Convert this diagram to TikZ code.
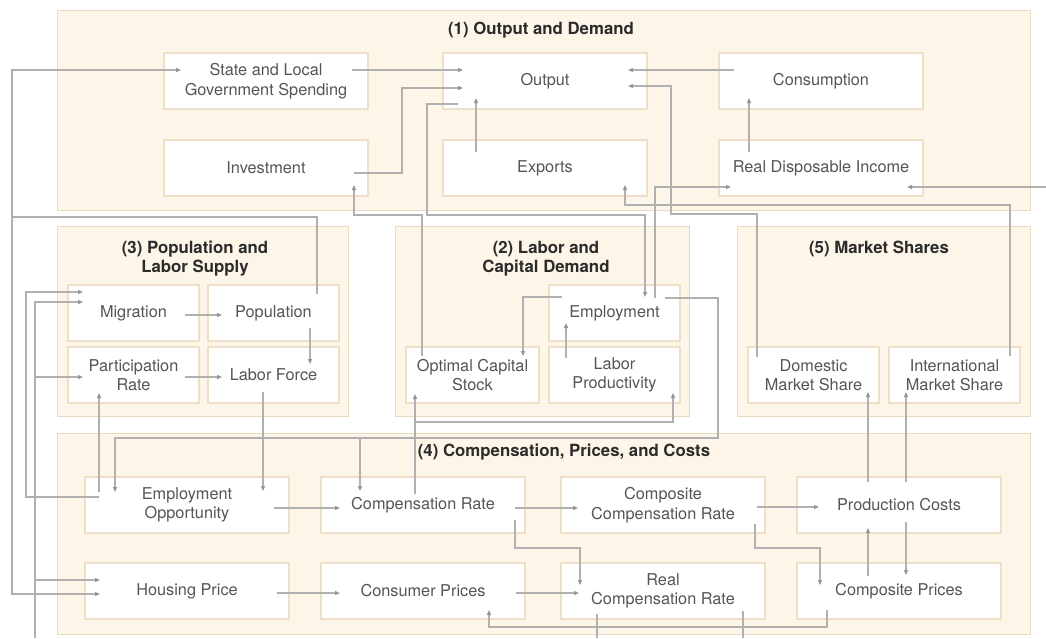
\documentclass[tikz,border=0pt]{standalone}
\usepackage{fontspec}
\setmainfont{TeX Gyre Heros}
\usetikzlibrary{arrows.meta,calc}
\definecolor{grpfill}{HTML}{FDF6E8}
\definecolor{grpline}{HTML}{E8D9BF}
\definecolor{boxline}{HTML}{EDE0C7}
\definecolor{linec}{HTML}{B0B0B0}
\definecolor{tipc}{HTML}{959595}
\definecolor{txt}{HTML}{555555}
\definecolor{ttl}{HTML}{2B2B2B}
\begin{document}
\begin{tikzpicture}[x=1pt,y=-1pt,
 grp/.style={draw=grpline, fill=grpfill, line width=1.4pt, anchor=north west, inner sep=0pt},
 bx/.style={draw=boxline, fill=white, line width=1.4pt, anchor=center, inner sep=0pt, align=center, text=txt, font=\fontsize{16.3}{19.5}\selectfont},
 wide/.style={bx, minimum width=204pt, minimum height=56pt},
 small/.style={bx, minimum width=131pt, minimum height=56pt},
 ttlst/.style={align=center, text=ttl, font=\bfseries\fontsize{16.8}{19.5}\selectfont, inner sep=0pt},
 conn/.style={draw=linec, line width=1.1pt, -{Triangle[length=5pt,width=4pt,color=tipc]}},
 plain/.style={draw=linec, line width=1.1pt},
]
\fill[white] (0,0) rectangle (1046,638);
\useasboundingbox (0,0) rectangle (1046,638);

% groups
\node[grp, minimum width=973pt, minimum height=200pt] (g1) at (57,10) {};
\node[grp, minimum width=291pt, minimum height=190pt] (g3) at (57,226) {};
\node[grp, minimum width=294pt, minimum height=190pt] (g2) at (395,226) {};
\node[grp, minimum width=293pt, minimum height=190pt] (g5) at (737,226) {};
\node[grp, minimum width=973pt, minimum height=201pt] (g4) at (57,433) {};

% titles
\node[ttlst] (t1) at (541,30) {(1) Output and Demand};
\node[ttlst] (t3) at (195,258.5) {(3) Population and\\Labor Supply};
\node[ttlst] (t2) at (546,258.5) {(2) Labor and\\Capital Demand};
\node[ttlst] (t5) at (879,249) {(5) Market Shares};
\node[ttlst] (t4) at (564,452) {(4) Compensation, Prices, and Costs};

% group 1 boxes
\node[wide] (sls) at (266,81) {State and Local\\Government Spending};
\node[wide] (out) at (545,81) {Output};
\node[wide] (cons) at (821,81) {Consumption};
\node[wide] (inv) at (266,168) {Investment};
\node[wide] (exp) at (545,168) {Exports};
\node[wide] (rdi) at (821,168) {Real Disposable Income};

% group 3 boxes
\node[small] (mig) at (133.5,313) {Migration};
\node[small] (pop) at (273.5,313) {Population};
\node[small] (pr) at (133.5,375) {Participation\\Rate};
\node[small] (lf) at (273.5,375) {Labor Force};

% group 2 boxes
\node[small, minimum width=133pt] (ocs) at (472.5,375) {Optimal Capital\\Stock};
\node[small] (emp) at (614.5,313) {Employment};
\node[small] (lp) at (614.5,375) {Labor\\Productivity};

% group 5 boxes
\node[small] (dom) at (813.5,375) {Domestic\\Market Share};
\node[small] (int) at (954.5,375) {International\\Market Share};

% group 4 boxes
\node[wide] (eo) at (187,505) {Employment\\Opportunity};
\node[wide] (cr) at (423,505) {Compensation Rate};
\node[wide] (ccr) at (663,505) {Composite\\Compensation Rate};
\node[wide] (pc) at (899,505) {Production Costs};
\node[wide] (hp) at (187,591) {Housing Price};
\node[wide] (cp) at (423,591) {Consumer Prices};
\node[wide] (rcr) at (663,591) {Real\\Compensation Rate};
\node[wide] (compp) at (899,591) {Composite Prices};

% free ends at the picture border
\coordinate (rin) at (1046,187);
\coordinate (bin) at (35,638);
\coordinate (b1) at (597,638);
\coordinate (b2) at (743,638);
\coordinate (h422) at (0,422);

% group 1 connectors
\draw[conn] ([shift={(86,-11)}]sls.center) -- ([shift={(-82,-11)}]out.center);
\draw[conn] ([shift={(88,5)}]inv.center) -| (402,88) -- ([shift={(-82,7)}]out.center);
\draw[conn] ([shift={(-87,23)}]out.center) -| (427,215) -| ([shift={(30.5,-16)}]emp.center);
\draw[conn] ([shift={(-87,-11)}]cons.center) -- ([shift={(83,-11)}]out.center);
\draw[conn] ([shift={(-56.5,-18)}]dom.center) |- (671,214) |- ([shift={(83,5)}]out.center);
\draw[conn] ([shift={(-72,-16)}]rdi.center) -- ([shift={(-72,17)}]cons.center);
\draw[conn] ([shift={(-69,-16)}]exp.center) -- ([shift={(-69,17)}]out.center);
\draw[conn] ([shift={(55.5,-19)}]int.center) |- (625,205) -- ([shift={(80,17)}]exp.center);
\draw[conn] ([shift={(40.5,-15)}]emp.center) |- ([shift={(-90,19)}]rdi.center);
\draw[conn] (rin) -- ([shift={(86,19)}]rdi.center);
\draw[conn] ([shift={(-50.5,-19)}]ocs.center) |- (354,215) -- ([shift={(88,17)}]inv.center);

% group 2 connectors
\draw[conn] ([shift={(-52.5,-16)}]emp.center) -| ([shift={(50.5,-19)}]ocs.center);
\draw[conn] ([shift={(-48.5,-17)}]lp.center) -- ([shift={(-48.5,10)}]emp.center);
\coordinate (crT) at ([shift={(-63,-14)}]cr.center);
\draw[conn] ([shift={(50.5,-15)}]emp.center) -| (718,438) coordinate (j1) -| ([shift={(-72,-13)}]eo.center);
\draw[conn] (crT |- j1) -- (crT);
\draw[conn] ([shift={(-8,-11)}]cr.center) coordinate (crs) -- ([shift={(-57.5,19)}]ocs.center);
\draw[conn] (crs |- h422) -| ([shift={(58.5,18)}]lp.center);

% group 3 connectors
\draw[conn] ([shift={(43.5,-19)}]pop.center) |- (12,217) coordinate (j2) |- ([shift={(-85,-11)}]sls.center);
\draw[conn] (j2) |- ([shift={(-87,3)}]hp.center);
\draw[conn] ([shift={(-88,-8)}]eo.center) -| (26,292) -- ([shift={(-50.5,-21)}]mig.center);
\coordinate (prT) at ([shift={(-50.5,2)}]pr.center);
\coordinate (hpT) at ([shift={(-87,-11)}]hp.center);
\draw[conn] (bin) |- ([shift={(-50.5,-11)}]mig.center);
\draw[conn] (bin |- prT) -- (prT);
\draw[conn] (bin |- hpT) -- (hpT);
\draw[conn] ([shift={(-88,-13)}]eo.center) -- ([shift={(-34.5,18)}]pr.center);
\draw[conn] ([shift={(-10.5,17)}]lf.center) -- ([shift={(76,-14)}]eo.center);
\draw[conn] ([shift={(51.5,2)}]mig.center) -- ([shift={(-51.5,2)}]pop.center);
\draw[conn] ([shift={(36.5,15)}]pop.center) -- ([shift={(36.5,-11)}]lf.center);
\draw[conn] ([shift={(51.5,2)}]pr.center) -- ([shift={(-51.5,2)}]lf.center);

% group 4 connectors
\draw[conn] ([shift={(87,3)}]eo.center) -- ([shift={(-83,3)}]cr.center);
\draw[conn] ([shift={(92,3)}]cr.center) -- ([shift={(-85,3)}]ccr.center);
\draw[conn] ([shift={(92,15)}]cr.center) |- (580,548) -- ([shift={(-83,-6)}]rcr.center);
\draw[conn] ([shift={(90,2)}]hp.center) -- ([shift={(-83,2)}]cp.center);
\draw[conn] ([shift={(93,2)}]cp.center) -- ([shift={(-84,2)}]rcr.center);
\draw[conn] ([shift={(-72,19)}]compp.center) |- (489,627) -- ([shift={(66,19)}]cp.center);
\draw[conn] ([shift={(94,2)}]ccr.center) -- ([shift={(-80,2)}]pc.center);
\draw[conn] ([shift={(92,19)}]ccr.center) |- (820,548) -- ([shift={(-79,-6)}]compp.center);
\draw[conn] ([shift={(-31,-15)}]compp.center) -- ([shift={(-31,23)}]pc.center);
\draw[conn] ([shift={(7,17)}]pc.center) -- ([shift={(7,-16)}]compp.center);
\draw[conn] ([shift={(-31,-23)}]pc.center) -- ([shift={(54.5,17)}]dom.center);
\draw[conn] ([shift={(7,-23)}]pc.center) -- ([shift={(-48.5,17)}]int.center);
\draw[plain] ([shift={(-66,23)}]rcr.center) -- (b1);
\draw[plain] ([shift={(80,20)}]rcr.center) -- (b2);
\end{tikzpicture}
\end{document}
